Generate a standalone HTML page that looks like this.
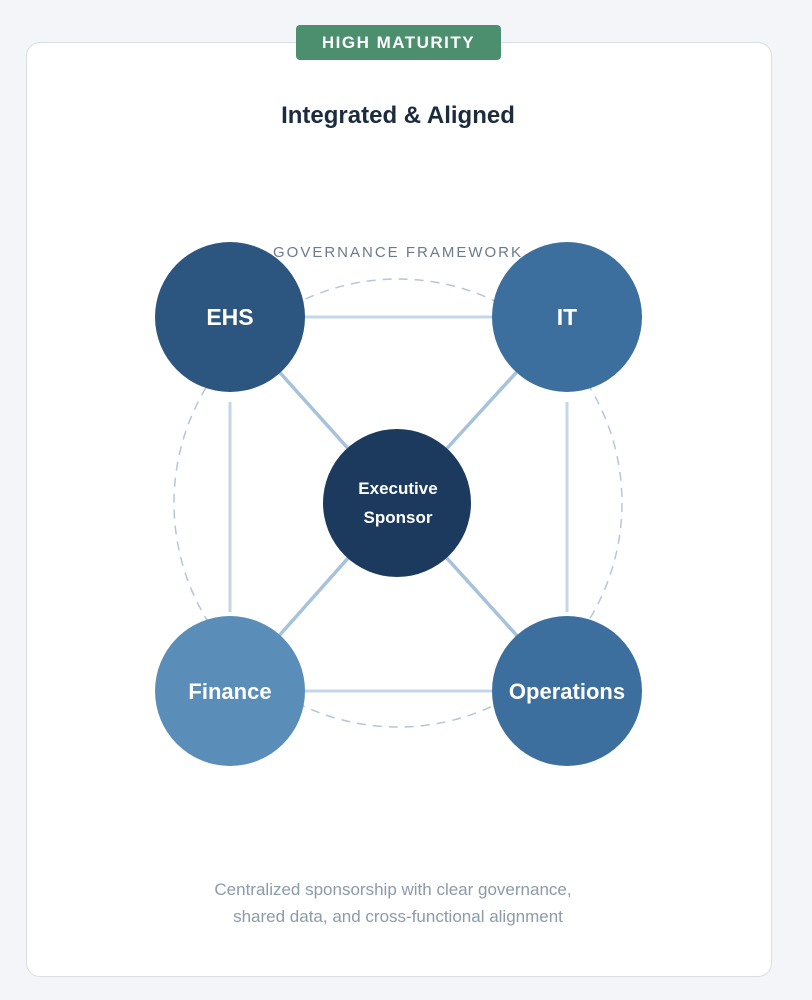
<!DOCTYPE html>
<html><head><style>
body{margin:0;width:812px;height:1000px;background:#f4f5f9;font-family:"Liberation Sans",sans-serif;position:relative;overflow:hidden}
.card{position:absolute;left:26px;top:42px;width:744px;height:933px;background:#fff;border:1.5px solid #d9dfe7;border-radius:14px}
.badge{position:absolute;left:296px;top:25px;width:205px;height:35px;background:#4b8f6e;border-radius:4px;color:#fff;font-weight:bold;font-size:17px;letter-spacing:1.5px;text-align:center;line-height:35px}
</style></head><body>
<div class="card"></div>
<div class="badge">HIGH MATURITY</div>
<svg width="812" height="1000" style="position:absolute;left:0;top:0">
<text x="398" y="123" text-anchor="middle" font-size="24" font-weight="bold" fill="#1c2b3e" font-family="Liberation Sans, sans-serif">Integrated &amp; Aligned</text>
<text x="398" y="257" text-anchor="middle" font-size="15" letter-spacing="2" fill="#6b7a8c" font-family="Liberation Sans, sans-serif">GOVERNANCE FRAMEWORK</text>
<circle cx="398" cy="503" r="224" fill="none" stroke="#b5c6d8" stroke-width="1.5" stroke-dasharray="9,7"/>
<g stroke="#c4d7e8" stroke-width="3">
<line x1="230" y1="317" x2="567" y2="317"/>
<line x1="230" y1="691" x2="567" y2="691"/>
<line x1="230" y1="402" x2="230" y2="612"/>
<line x1="567" y1="402" x2="567" y2="612"/>
</g>
<g stroke="#a7c2db" stroke-width="3.5">
<line x1="230" y1="317" x2="397" y2="503"/>
<line x1="567" y1="317" x2="397" y2="503"/>
<line x1="230" y1="691" x2="397" y2="503"/>
<line x1="567" y1="691" x2="397" y2="503"/>
</g>
<circle cx="230" cy="317" r="75" fill="#2c557f"/>
<circle cx="567" cy="317" r="75" fill="#3d6f9e"/>
<circle cx="230" cy="691" r="75" fill="#5a8db8"/>
<circle cx="567" cy="691" r="75" fill="#3d6f9e"/>
<circle cx="397" cy="503" r="74" fill="#1c3a5e"/>
<g fill="#fff" font-weight="bold" text-anchor="middle" font-family="Liberation Sans, sans-serif">
<text x="230" y="325" font-size="23">EHS</text>
<text x="567" y="325" font-size="23">IT</text>
<text x="230" y="699" font-size="22">Finance</text>
<text x="567" y="699" font-size="22">Operations</text>
<text x="398" y="494" font-size="17">Executive</text>
<text x="398" y="523" font-size="17">Sponsor</text>
</g>
<g fill="#8c9aaa" font-size="17" text-anchor="middle" font-family="Liberation Sans, sans-serif">
<text x="393" y="895">Centralized sponsorship with clear governance,</text>
<text x="398" y="922">shared data, and cross-functional alignment</text>
</g>
</svg>
</body></html>
